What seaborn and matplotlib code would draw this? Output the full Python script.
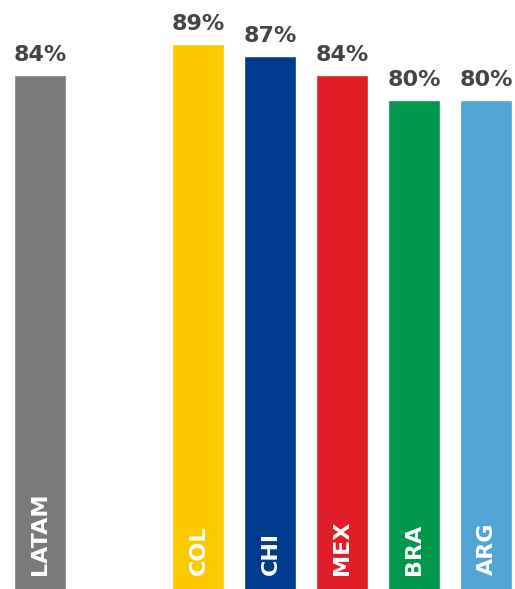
import matplotlib
matplotlib.use("Agg")
import matplotlib.pyplot as plt
import matplotlib.transforms as mtransforms
import seaborn as sns
import pandas as pd

# Data
regions = ["LATAM", "COL", "CHI", "MEX", "BRA", "ARG"]
values = [84, 89, 87, 84, 80, 80]
colors = ["#7a7a78", "#fbc900", "#003a8f", "#e01e27", "#00984a", "#52a5d5"]

# x positions (LATAM set apart from the countries)
positions = [0, 2.2, 3.2, 4.2, 5.2, 6.2]

df = pd.DataFrame({"pos": positions, "region": regions, "value": values})

sns.set_style("white")
plt.rcParams["font.family"] = ["DejaVu Sans"]

fig = plt.figure(figsize=(5.15, 5.89), dpi=100)
ax = fig.add_axes([0, 0, 1, 1])

sns.barplot(data=df, x="pos", y="value", hue="region", palette=colors,
            native_scale=True, width=52 / 72, dodge=False, legend=False,
            saturation=1, ax=ax)

# bars run off the bottom edge of the picture
ax.set_xlim(-40 / 72, 475 / 72)
ax.set_ylim(1.6, 96)
ax.axis("off")

trans = mtransforms.blended_transform_factory(ax.transData, ax.transAxes)
for p, r, v in zip(positions, regions, values):
    # percentage above the bar
    ax.annotate(f"{v}%", xy=(p, v), xytext=(0, 7), textcoords="offset points",
                ha="center", va="bottom", fontsize=16, fontweight="bold",
                color="#444444")
    # region name inside the bar, rotated
    ax.text(p, 0.024, r, transform=trans, rotation=90, ha="center",
            va="bottom", fontsize=16, fontweight="bold", color="white")

fig.savefig("out.png", dpi=100)
